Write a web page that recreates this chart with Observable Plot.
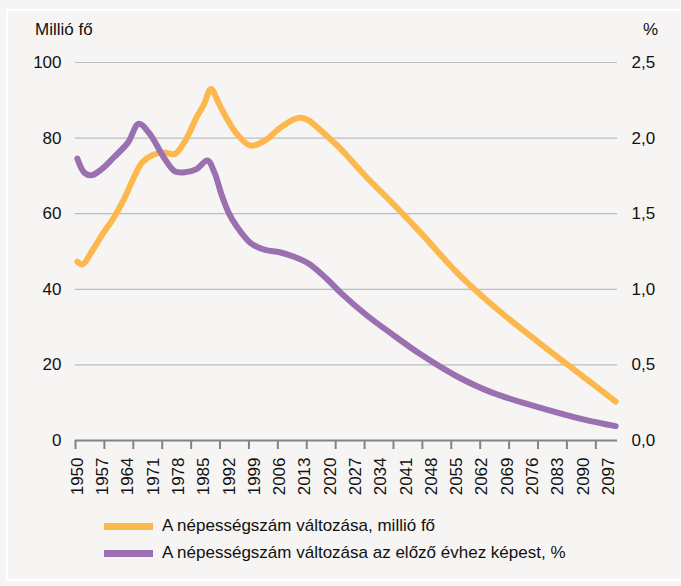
<!DOCTYPE html>
<html>
<head>
<meta charset="utf-8">
<script src="https://cdn.jsdelivr.net/npm/d3@7"></script>
<script src="https://cdn.jsdelivr.net/npm/@observablehq/plot@0.6"></script>
<style>
  html, body { margin: 0; padding: 0; }
  body { width: 681px; height: 586px; background: #f6f5f3; position: relative; overflow: hidden;
         font-family: "Liberation Sans", Arial, sans-serif; color: #111; }
  #frame { position: absolute; left: 6px; top: 9px; width: 700px; height: 572px; border: 2px solid #ffffff; box-sizing: border-box; }
  #chart { position: absolute; left: 0; top: 0; }
  .title { position: absolute; font-size: 17px; line-height: 17px; }
  .legend { position: absolute; left: 104px; font-size: 17px; line-height: 20px; display: flex; align-items: center; }
  .sw { width: 49px; height: 7px; margin-right: 9px; }
</style>
</head>
<body>
<div id="frame"></div>
<div id="chart"></div>
<div class="title" style="left:35px; top:21px;">Millió fő</div>
<div class="title" style="left:643px; top:21px;">%</div>
<div class="legend" style="top:516px;"><div class="sw" style="background:#fdb84d"></div>A népességszám változása, millió fő</div>
<div class="legend" style="top:543px;"><div class="sw" style="background:#9a70b0"></div>A népességszám változása az előző évhez képest, %</div>
<script>
const orangeYears  = [1950, 1951.5, 1954, 1957, 1960, 1963, 1966, 1968, 1971, 1974, 1977, 1980, 1983, 1985, 1987, 1989, 1991, 1994, 1998, 2002, 2006, 2010, 2012, 2014, 2019, 2023, 2030, 2037, 2045, 2055, 2065, 2078, 2090, 2099];
const orangeValues = [47.3, 46.6, 50.0, 54.6, 58.8, 64.0, 70.3, 73.6, 75.6, 76.2, 75.8, 79.5, 85.5, 88.8, 93.0, 89.5, 85.8, 81.3, 78.0, 79.4, 82.6, 85.0, 85.4, 84.7, 80.6, 77.0, 69.7, 63.0, 55.0, 44.5, 35.7, 25.7, 16.9, 10.3];

const purpleYears  = [1950, 1952, 1954, 1957, 1960, 1964, 1967, 1970, 1974, 1977, 1980, 1983, 1986, 1988, 1990, 1992, 1994, 1998, 2002, 2006, 2010, 2014, 2019, 2023, 2030, 2037, 2045, 2055, 2065, 2078, 2090, 2099];
const purpleValues = [1.865, 1.77, 1.755, 1.80, 1.87, 1.97, 2.095, 2.03, 1.87, 1.78, 1.775, 1.795, 1.852, 1.77, 1.62, 1.50, 1.42, 1.305, 1.26, 1.245, 1.215, 1.17, 1.07, 0.975, 0.83, 0.705, 0.57, 0.425, 0.315, 0.218, 0.14, 0.095];

const leftTicks  = [0, 20, 40, 60, 80, 100];
const rightTicks = [0, 0.5, 1.0, 1.5, 2.0, 2.5];
const yearLabels = [1950, 1957, 1964, 1971, 1978, 1985, 1992, 1999, 2006, 2013, 2020, 2027, 2034, 2041, 2048, 2055, 2062, 2069, 2076, 2083, 2090, 2097];
const pctScale = 40; // 2,5 % on the right axis lines up with 100 on the left axis

const orange = orangeYears.map((y, i) => ({year: y, value: orangeValues[i]}));
const purple = purpleYears.map((y, i) => ({year: y, value: purpleValues[i]}));
// Excel-style category boundaries: a tick mark every 8 categories
const tickMarks = d3.range(0, 19).map(k => 1949.5 + 8 * k);

const chart = Plot.plot({
  width: 681,
  height: 500,
  marginTop: 62,
  marginBottom: 60,
  marginLeft: 75,
  marginRight: 64,
  style: {background: "transparent", fontFamily: "'Liberation Sans', Arial, sans-serif", fontSize: "17px", color: "#111"},
  x: {domain: [1949.5, 2099.5]},
  y: {domain: [0, 100]},
  marks: [
    Plot.gridY(leftTicks.filter(d => d > 0), {stroke: "#bcbcc0", strokeOpacity: 1, strokeWidth: 1.2}),
    Plot.axisY(leftTicks, {anchor: "left", tickSize: 0, tickPadding: 14, label: null}),
    Plot.axisY(rightTicks.map(d => d * pctScale), {anchor: "right", tickSize: 0, tickPadding: 14, label: null,
      tickFormat: d => (d / pctScale).toFixed(1).replace(".", ",")}),
    Plot.axisX(tickMarks, {anchor: "bottom", tickSize: 9, stroke: "#838383", strokeWidth: 2, tickFormat: () => "", label: null}),
    Plot.axisX(yearLabels, {anchor: "bottom", tickSize: 0, tickPadding: 17, tickRotate: -90, label: null, tickFormat: d => String(d)}),
    Plot.ruleY([0], {stroke: "#838383", strokeWidth: 2}),
    Plot.line(orange, {x: "year", y: "value", stroke: "#fdb84d", strokeWidth: 6, curve: "catmull-rom"}),
    Plot.line(purple, {x: "year", y: d => d.value * pctScale, stroke: "#9a70b0", strokeWidth: 6, curve: "catmull-rom"})
  ]
});
document.getElementById("chart").appendChild(chart);
</script>
</body>
</html>
